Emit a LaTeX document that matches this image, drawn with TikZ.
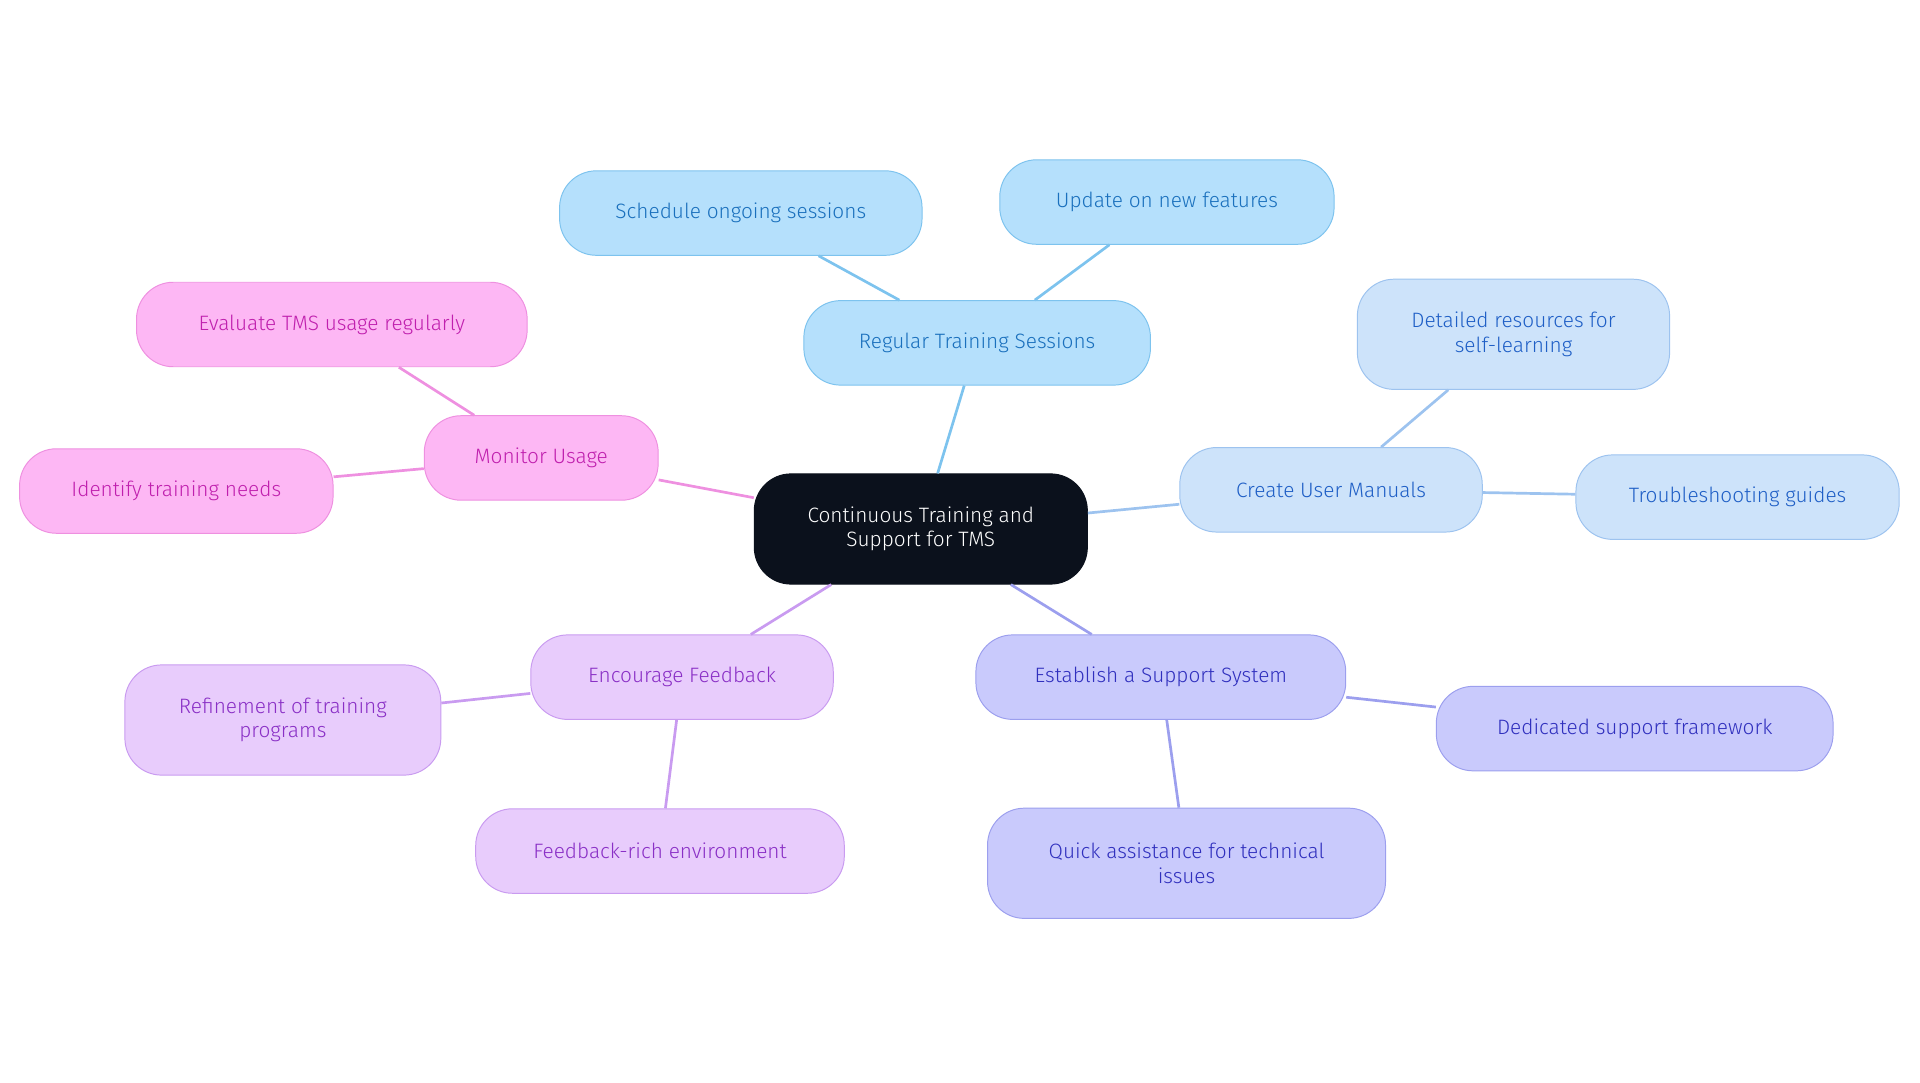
\documentclass[tikz,border=0pt]{standalone}
\usepackage{fontspec}
\setmainfont{Fira Sans}[UprightFont=*-Light]
\usepackage{xcolor}
\usetikzlibrary{positioning}
\definecolor{rootFill}{HTML}{0B111C}
\definecolor{trainFill}{HTML}{B5E0FC}\definecolor{trainLine}{HTML}{7DC3EE}\definecolor{trainText}{HTML}{1A70BD}
\definecolor{manFill}{HTML}{CDE3FA}\definecolor{manLine}{HTML}{9DC3EF}\definecolor{manText}{HTML}{1F5FC6}
\definecolor{supFill}{HTML}{C9CAFC}\definecolor{supLine}{HTML}{9C9FEE}\definecolor{supText}{HTML}{3030BE}
\definecolor{fbFill}{HTML}{E8CCFC}\definecolor{fbLine}{HTML}{C99BF0}\definecolor{fbText}{HTML}{8A30C6}
\definecolor{monFill}{HTML}{FDB7F4}\definecolor{monLine}{HTML}{EE90E0}\definecolor{monText}{HTML}{C020AE}
\tikzset{
    topic/.style={rectangle, rounded corners=30pt, thick, align=center, minimum height=69pt, inner sep=2pt, font=\fontsize{17}{20}\selectfont},
    root/.style={topic, fill=rootFill, draw=rootFill, text=white, minimum height=90pt},
    train/.style={topic, fill=trainFill, draw=trainLine, text=trainText},
    man/.style={topic, fill=manFill, draw=manLine, text=manText},
    sup/.style={topic, fill=supFill, draw=supLine, text=supText},
    fb/.style={topic, fill=fbFill, draw=fbLine, text=fbText},
    mon/.style={topic, fill=monFill, draw=monLine, text=monText},
    link/.style={line width=2.2pt}
}
\begin{document}
\begin{tikzpicture}[x=1pt, y=-1pt]
    \useasboundingbox (0,0) rectangle (1568,884);
    % Centre
    \node[root, minimum width=272pt] (C) at (752,432) {Continuous Training and\\Support for TMS};
    % Training
    \node[train, minimum width=283pt] (T) at (798,280) {Regular Training Sessions};
    \node[train, minimum width=296pt] (T1) at (605,174) {Schedule ongoing sessions};
    \node[train, minimum width=273pt] (T2) at (953,165) {Update on new features};
    % Manuals
    \node[man, minimum width=247pt] (M) at (1087,400) {Create User Manuals};
    \node[man, minimum width=255pt, minimum height=90pt] (M1) at (1236,273) {Detailed resources for\\self-learning};
    \node[man, minimum width=264pt] (M2) at (1419,406) {Troubleshooting guides};
    % Support
    \node[sup, minimum width=302pt] (S) at (948,553) {Establish a Support System};
    \node[sup, minimum width=324pt] (S1) at (1335,595) {Dedicated support framework};
    \node[sup, minimum width=325pt, minimum height=90pt] (S2) at (969,705) {Quick assistance for technical\\issues};
    % Feedback
    \node[fb, minimum width=247pt] (F) at (557,553) {Encourage Feedback};
    \node[fb, minimum width=258pt, minimum height=90pt] (F1) at (231,588) {Refinement of training\\programs};
    \node[fb, minimum width=301pt] (F2) at (539,695) {Feedback-rich environment};
    % Monitor
    \node[mon, minimum width=191pt] (U) at (442,374) {Monitor Usage};
    \node[mon, minimum width=319pt] (U1) at (271,265) {Evaluate TMS usage regularly};
    \node[mon, minimum width=256pt] (U2) at (144,401) {Identify training needs};

    \begin{scope}[on background layer/.style={}]
    \draw[link, trainLine] (C) -- (T) (T) -- (T1) (T) -- (T2);
    \draw[link, manLine] (C) -- (M) (M) -- (M1) (M) -- (M2);
    \draw[link, supLine] (C) -- (S) (S) -- (S1) (S) -- (S2);
    \draw[link, fbLine] (C) -- (F) (F) -- (F1) (F) -- (F2);
    \draw[link, monLine] (C) -- (U) (U) -- (U1) (U) -- (U2);
    \end{scope}
\end{tikzpicture}
\end{document}
